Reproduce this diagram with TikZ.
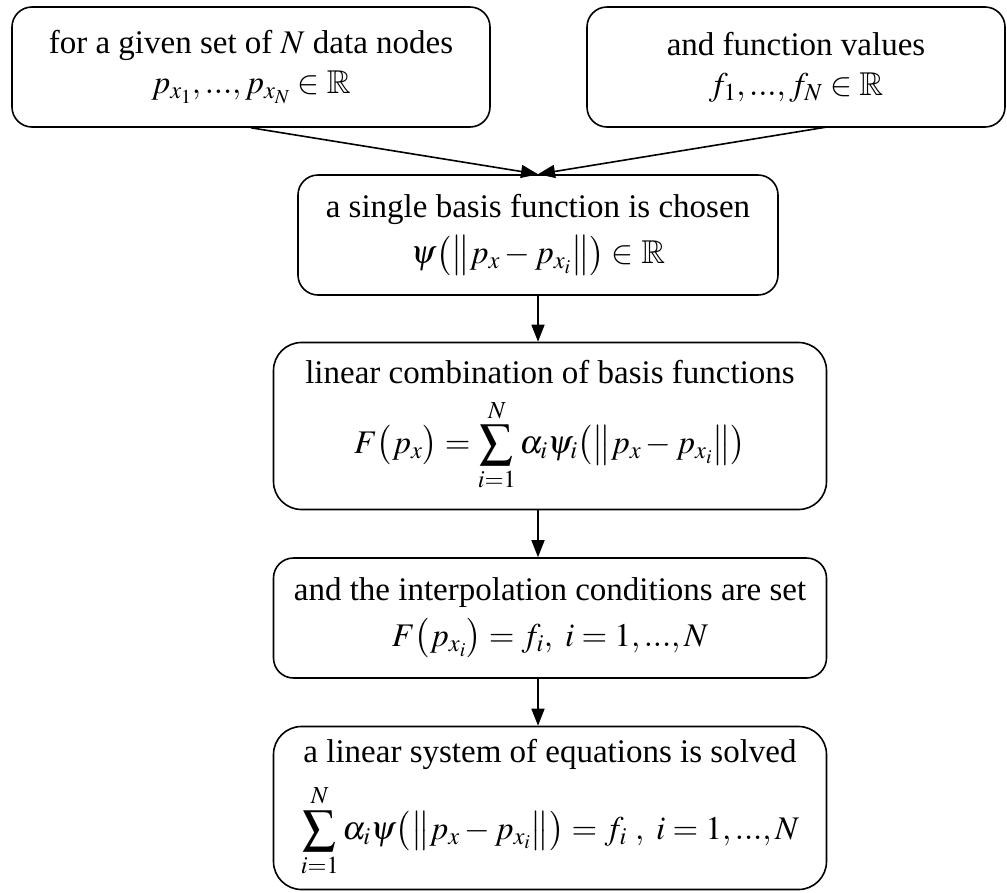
\documentclass[tikz,border=0pt]{standalone}
\usepackage{amssymb}
\usepackage{mathptmx}
\usepackage{fontspec}
\setmainfont{Liberation Serif}
\usetikzlibrary{arrows.meta}
\begin{document}
\begin{tikzpicture}[x=1pt,y=-1pt,
  box/.style={draw, line width=1.6pt, rounded corners=#1, align=center, inner sep=0pt,
    font=\fontsize{33}{40}\selectfont},
  box/.default=20pt,
  arr/.style={line width=1.6pt, -{Triangle[length=17pt,width=13pt]}}]
\useasboundingbox (0,0) rectangle (1007,892);
\node[box, minimum width=478pt, minimum height=120pt] (b1) at (251,67)
  {for a given set of $N$ data nodes\\ $p_{x_1},...,p_{x_N}\in\mathbb{R}$};
\node[box, minimum width=418pt, minimum height=120pt] (b2) at (796,67)
  {and function values\\ $f_1,...,f_N\in\mathbb{R}$};
\node[box, minimum width=480pt, minimum height=120pt] (b3) at (538,235)
  {a single basis function is chosen\\[6pt] $\psi\bigl(\bigl\|p_x-p_{x_i}\bigr\|\bigr)\in\mathbb{R}$};
\node[box=28pt, minimum width=553pt, minimum height=167pt] (b4) at (550,426)
  {linear combination of basis functions\\[14pt] $\displaystyle F\bigl(p_x\bigr)=\sum_{i=1}^{N}\alpha_i\psi_i\bigl(\bigl\|p_x-p_{x_i}\bigr\|\bigr)$};
\node[box, minimum width=553pt, minimum height=120pt] (b5) at (550,618)
  {and the interpolation conditions are set\\[6pt] $F\bigl(p_{x_i}\bigr)=f_i,\ i=1,...,N$};
\node[box=28pt, minimum width=553pt, minimum height=163pt] (b6) at (550,808)
  {a linear system of equations is solved\\[14pt] $\displaystyle\sum_{i=1}^{N}\alpha_i\psi\bigl(\bigl\|p_x-p_{x_i}\bigr\|\bigr)=f_i\ ,\ i=1,...,N$};
\coordinate (s2) at (827,127);
\draw[arr] (b1.south) -- (b3.north);
\draw[arr] (s2) -- (b3.north);
\draw[arr] (b3.south) -- (b3.south |- b4.north);
\draw[arr] (b4.south -| b3.south) -- (b3.south |- b5.north);
\draw[arr] (b5.south -| b3.south) -- (b3.south |- b6.north);
\end{tikzpicture}
\end{document}
